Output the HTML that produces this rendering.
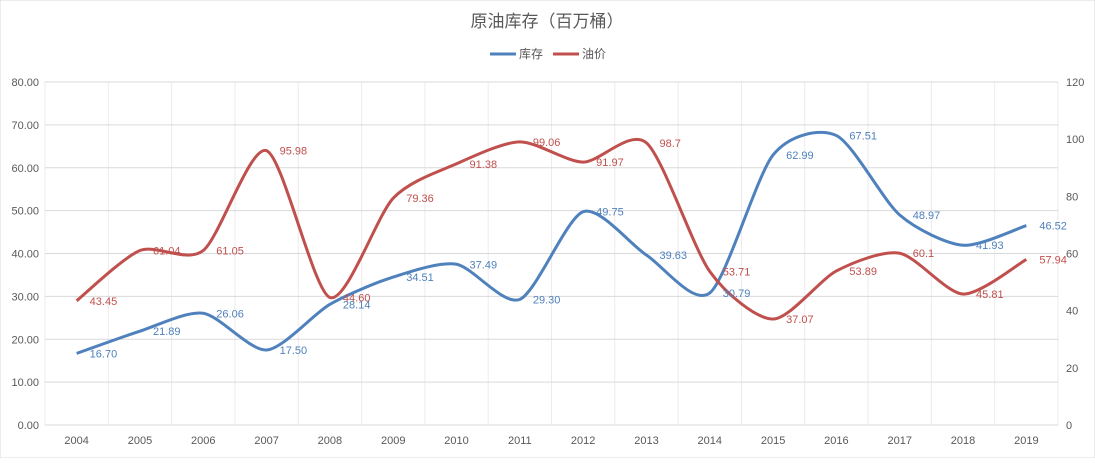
<!DOCTYPE html>
<html><head><meta charset="utf-8"><style>
body{margin:0;background:#fff;font-family:"Liberation Sans","Noto Sans CJK SC",sans-serif}
svg text{font-family:"Liberation Sans","Noto Sans CJK SC",sans-serif}
</style></head><body>
<svg id="c" width="1095" height="458" xmlns="http://www.w3.org/2000/svg">
<rect width="1095" height="458" fill="#fff" stroke="#d9d9d9"/>
<text x="547" y="27" text-anchor="middle" font-size="17" fill="#595959">原油库存（百万桶）</text>
<g>
<line x1="490" y1="54" x2="516" y2="54" stroke="#4f81bd" stroke-width="3"/>
<text x="519" y="58" font-size="12" fill="#595959">库存</text>
<line x1="553" y1="54" x2="579" y2="54" stroke="#c0504d" stroke-width="3"/>
<text x="582" y="58" font-size="12" fill="#595959">油价</text>
</g>
<g id="g"></g>
</svg>
<script>
const years=["2004","2005","2006","2007","2008","2009","2010","2011","2012","2013","2014","2015","2016","2017","2018","2019"];
const stock=[16.70,21.89,26.06,17.50,28.14,34.51,37.49,29.30,49.75,39.63,30.79,62.99,67.51,48.97,41.93,46.52];
const price=[43.45,61.04,61.05,95.98,44.60,79.36,91.38,99.06,91.97,98.7,53.71,37.07,53.89,60.1,45.81,57.94];
const priceLabels=["43.45","61.04","61.05","95.98","44.60","79.36","91.38","99.06","91.97","98.7","53.71","37.07","53.89","60.1","45.81","57.94"];
const leftTicks=[0,10,20,30,40,50,60,70,80];
const rightTicks=[0,20,40,60,80,100,120];
const L=45,R=1058,T=82,B=425,bw=(R-L)/years.length;
const x=i=>L+bw*(i+0.5);
const yl=v=>B-(v/80)*(B-T);
const yr=v=>B-(v/120)*(B-T);
const g=document.getElementById('g');
const NS="http://www.w3.org/2000/svg";
function mk(t,a,txt){const e=document.createElementNS(NS,t);for(const k in a)e.setAttribute(k,a[k]);if(txt!==undefined)e.textContent=txt;g.appendChild(e);return e;}
for(let i=0;i<=years.length;i++){const e=mk('line',{x1:L+bw*i,x2:L+bw*i,y1:T,y2:B,stroke:'#ececec'});

}
leftTicks.forEach(v=>{const e=mk('line',{x1:L,x2:R,y1:yl(v),y2:yl(v),stroke:'#d9d9d9'});


const t=mk('text',{x:39,y:yl(v)+4,'text-anchor':'end','font-size':11,fill:'#595959'},v.toFixed(2));

});
rightTicks.forEach(v=>{const t=mk('text',{x:1066,y:yr(v)+4,'font-size':11,fill:'#595959'},String(v));

});
years.forEach((yv,i)=>{const t=mk('text',{x:x(i),y:444,'text-anchor':'middle','font-size':11,fill:'#595959'},yv);

});
function path(pts){let d=`M${pts[0][0]},${pts[0][1]}`;const k=0.13;
for(let i=0;i<pts.length-1;i++){const p0=pts[Math.max(0,i-1)],p1=pts[i],p2=pts[i+1],p3=pts[Math.min(pts.length-1,i+2)];
d+=` C${p1[0]+(p2[0]-p0[0])*k},${p1[1]+(p2[1]-p0[1])*k} ${p2[0]-(p3[0]-p1[0])*k},${p2[1]-(p3[1]-p1[1])*k} ${p2[0]},${p2[1]}`;}return d;}
const sp=mk('path',{d:path(stock.map((v,i)=>[x(i),yl(v)])),fill:'none',stroke:'#4f81bd','stroke-width':3});


const pp=mk('path',{d:path(price.map((v,i)=>[x(i),yr(v)])),fill:'none',stroke:'#c0504d','stroke-width':3});


stock.forEach((v,i)=>{const t=mk('text',{x:x(i)+13,y:yl(v)+4,'font-size':11,fill:'#4f81bd'},v.toFixed(2));

});
price.forEach((v,i)=>{const t=mk('text',{x:x(i)+13,y:yr(v)+4,'font-size':11,fill:'#c0504d'},priceLabels[i]);

});
</script>
</body></html>
